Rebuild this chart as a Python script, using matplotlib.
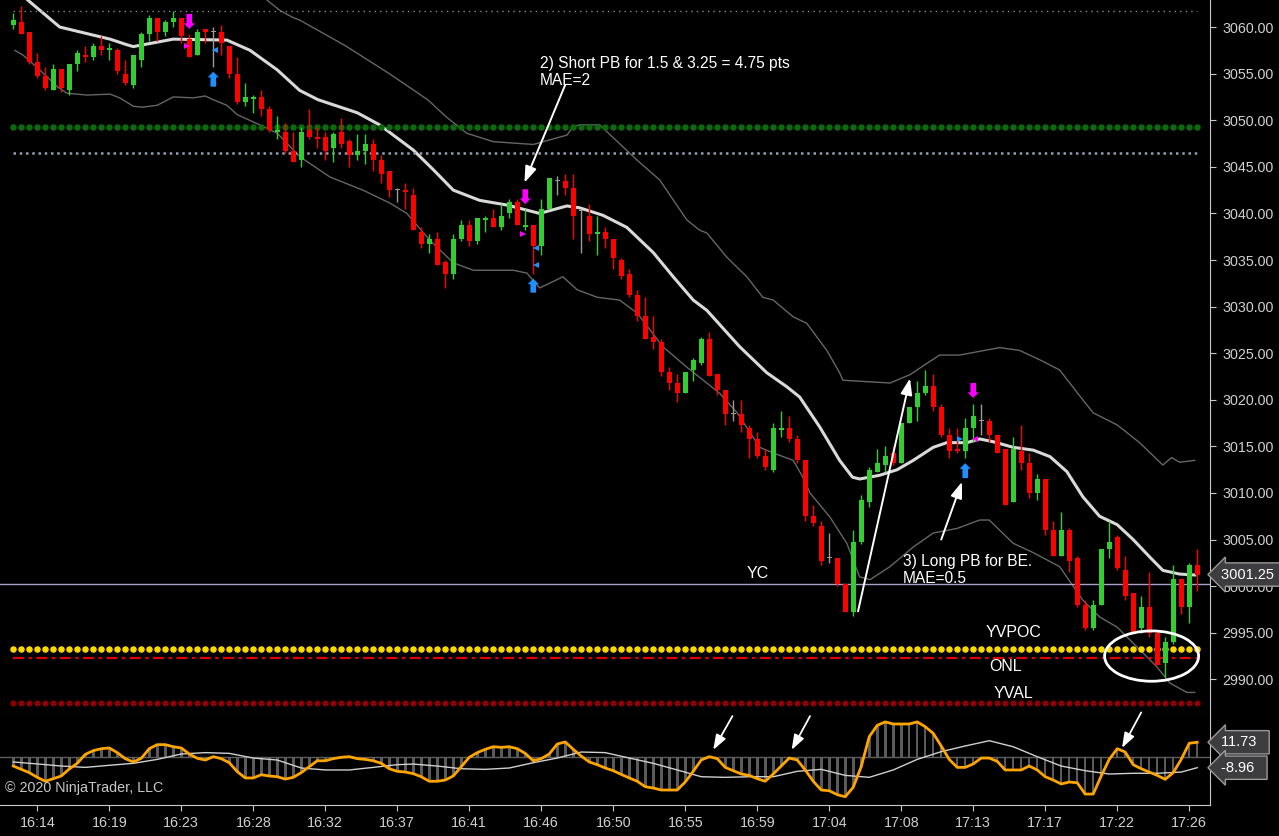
import matplotlib
matplotlib.use('Agg')
import matplotlib.pyplot as plt
import matplotlib.transforms as mtransforms
from matplotlib.patches import Ellipse
import numpy as np

plt.rcParams['font.family'] = ['Liberation Sans', 'DejaVu Sans']

# ---- price bars (one per bar, left to right) ----
opens = [3060.25, 3060.5, 3059.5, 3056.25, 3054.75, 3053.25, 3055.5, 3053.25, 3056.0, 3057.0,
         3056.75, 3058.0, 3057.5, 3057.5, 3055.0, 3053.75, 3056.5, 3059.25, 3061.0, 3059.5,
         3060.5, 3061.0, 3058.75, 3057.0, 3059.75, 3059.5, 3059.5, 3058.0, 3055.0, 3052.0,
         3052.25, 3052.5, 3051.25, 3048.75, 3048.75, 3046.75, 3045.75, 3049.0, 3048.25, 3048.25,
         3047.0, 3048.75, 3047.75, 3046.25, 3046.75, 3047.5, 3045.75, 3044.5, 3042.5, 3042.5,
         3042.0, 3038.0, 3036.75, 3037.25, 3034.75, 3033.5, 3037.25, 3038.75, 3037.0, 3039.25,
         3039.5, 3038.5, 3040.0, 3041.25, 3038.5, 3038.75, 3036.5, 3040.5, 3043.5, 3043.5,
         3042.75, 3040.25, 3039.75, 3037.75, 3038.0, 3037.25, 3035.0, 3033.5, 3031.25, 3029.0,
         3026.75, 3026.25, 3023.0, 3021.75, 3020.75, 3023.25, 3024.0, 3026.5, 3022.75, 3021.0,
         3018.5, 3018.5, 3017.0, 3015.75, 3014.0, 3012.5, 3016.75, 3017.0, 3015.75, 3013.5,
         3007.5, 3006.5, 3003.0, 3003.0, 3000.25, 2997.25, 3004.75, 3009.0, 3012.25, 3013.0,
         3014.25, 3013.25, 3017.5, 3019.25, 3020.75, 3021.5, 3019.25, 3016.25, 3014.75, 3014.5,
         3017.0, 3017.75, 3017.75, 3016.25, 3014.75, 3009.0, 3014.5, 3013.25, 3010.0, 3011.5,
         3006.0, 3003.25, 3006.0, 3003.0, 2998.0, 2995.5, 2998.0, 3004.0, 3005.25, 3001.75,
         2999.25, 2995.5, 2997.75, 2995.0, 2991.75, 2994.0, 3000.75, 2997.75, 3002.25]
highs = [3061.5, 3062.25, 3059.5, 3057.25, 3055.75, 3056.0, 3055.5, 3056.0, 3057.5, 3058.0,
         3058.25, 3059.0, 3058.25, 3057.75, 3056.5, 3057.0, 3059.5, 3061.25, 3061.0, 3060.75,
         3061.75, 3061.0, 3059.25, 3059.75, 3059.75, 3060.0, 3060.25, 3058.0, 3056.75, 3054.0,
         3052.75, 3053.25, 3051.5, 3050.5, 3049.75, 3048.75, 3049.25, 3051.25, 3049.25, 3048.75,
         3048.75, 3050.25, 3048.0, 3048.5, 3048.5, 3048.0, 3046.25, 3044.5, 3042.75, 3043.25,
         3042.75, 3038.5, 3037.75, 3038.0, 3035.0, 3037.75, 3039.25, 3039.25, 3039.5, 3039.75,
         3040.5, 3041.0, 3041.5, 3041.5, 3040.5, 3038.75, 3041.5, 3043.75, 3044.0, 3044.25,
         3044.25, 3040.5, 3041.0, 3039.75, 3038.5, 3037.25, 3035.25, 3034.0, 3031.75, 3031.0,
         3029.0, 3026.5, 3023.5, 3022.75, 3023.0, 3024.5, 3026.75, 3027.25, 3022.75, 3021.0,
         3020.0, 3020.0, 3017.25, 3016.5, 3014.75, 3017.5, 3018.75, 3018.25, 3016.25, 3013.5,
         3008.75, 3007.0, 3005.75, 3003.0, 3000.25, 3006.0, 3009.75, 3012.75, 3014.75, 3015.0,
         3015.0, 3017.5, 3019.25, 3022.0, 3023.25, 3022.75, 3019.5, 3017.0, 3017.0, 3018.0,
         3019.5, 3019.5, 3018.0, 3016.25, 3014.75, 3016.0, 3017.25, 3014.25, 3012.0, 3011.5,
         3007.0, 3008.0, 3006.25, 3003.25, 2998.5, 2998.5, 3004.0, 3007.0, 3005.5, 3003.25,
         2999.25, 2999.0, 3001.5, 2995.25, 2994.5, 3002.25, 3000.75, 3002.5, 3004.0]
lows = [3059.75, 3059.25, 3056.0, 3054.5, 3053.25, 3053.25, 3053.0, 3052.75, 3055.25, 3056.25,
        3056.5, 3057.0, 3056.5, 3055.0, 3053.75, 3053.5, 3055.75, 3058.5, 3058.5, 3059.0,
        3060.0, 3058.25, 3056.75, 3057.0, 3058.25, 3055.75, 3057.0, 3054.5, 3051.75, 3051.5,
        3050.75, 3050.5, 3048.75, 3048.0, 3046.5, 3045.5, 3045.0, 3048.0, 3047.0, 3045.75,
        3045.5, 3047.0, 3045.0, 3045.75, 3045.25, 3044.5, 3043.25, 3041.75, 3041.25, 3040.5,
        3038.25, 3036.25, 3035.75, 3034.5, 3032.0, 3033.0, 3037.0, 3036.5, 3036.75, 3038.0,
        3038.5, 3038.25, 3039.5, 3038.75, 3038.25, 3033.5, 3035.5, 3040.5, 3042.0, 3042.0,
        3037.25, 3035.75, 3037.0, 3035.5, 3036.25, 3034.0, 3033.0, 3031.0, 3028.5, 3026.5,
        3025.5, 3022.5, 3021.0, 3019.75, 3020.75, 3022.0, 3023.75, 3022.5, 3020.5, 3017.25,
        3017.75, 3016.5, 3013.75, 3013.75, 3012.5, 3012.25, 3016.0, 3015.5, 3013.25, 3007.0,
        3006.5, 3002.25, 3002.5, 3000.0, 2997.25, 2996.75, 3004.5, 3008.5, 3012.25, 3012.25,
        3013.0, 3013.25, 3017.5, 3017.75, 3020.5, 3018.75, 3016.0, 3013.75, 3014.25, 3013.75,
        3015.5, 3016.25, 3015.5, 3014.25, 3008.75, 3009.0, 3012.5, 3009.5, 3009.25, 3005.5,
        3003.25, 3003.25, 3001.5, 2997.75, 2995.25, 2995.25, 2998.0, 3003.0, 3001.75, 2998.5,
        2995.0, 2995.0, 2994.5, 2991.5, 2990.25, 2993.75, 2997.0, 2996.0, 2999.5]
closes = [3060.75, 3059.25, 3056.25, 3054.75, 3053.5, 3055.5, 3053.5, 3056.0, 3057.25, 3056.75,
          3058.0, 3057.5, 3057.75, 3055.25, 3054.0, 3057.0, 3059.25, 3061.0, 3059.5, 3060.5,
          3061.0, 3059.0, 3056.75, 3059.5, 3059.5, 3059.5, 3058.25, 3055.0, 3052.0, 3052.5,
          3052.5, 3051.25, 3049.0, 3049.0, 3046.75, 3045.5, 3048.75, 3048.25, 3048.0, 3046.75,
          3048.5, 3047.5, 3046.25, 3046.75, 3047.5, 3045.75, 3044.25, 3042.5, 3042.5, 3042.25,
          3038.25, 3036.75, 3037.25, 3034.5, 3033.5, 3037.25, 3038.75, 3037.0, 3039.5, 3039.5,
          3038.5, 3039.75, 3041.25, 3038.75, 3038.75, 3036.5, 3040.5, 3043.75, 3043.5, 3042.75,
          3039.75, 3040.25, 3037.75, 3038.0, 3037.25, 3035.25, 3033.25, 3031.25, 3029.0, 3026.5,
          3026.25, 3023.0, 3021.75, 3020.75, 3023.0, 3024.25, 3026.5, 3022.5, 3021.0, 3018.5,
          3018.5, 3017.25, 3015.75, 3014.0, 3012.75, 3017.0, 3017.0, 3015.75, 3013.5, 3007.5,
          3006.75, 3002.75, 3003.0, 3000.25, 2997.25, 3004.75, 3009.25, 3012.5, 3013.25, 3014.0,
          3013.25, 3017.5, 3019.25, 3020.75, 3021.5, 3019.25, 3016.25, 3014.5, 3014.5, 3017.0,
          3018.25, 3017.75, 3016.25, 3014.25, 3008.75, 3014.75, 3013.25, 3010.0, 3011.5, 3006.0,
          3003.25, 3006.0, 3002.75, 2998.0, 2995.5, 2998.0, 3004.0, 3004.75, 3002.0, 2999.0,
          2995.0, 2997.75, 2995.0, 2991.5, 2994.0, 3000.75, 2997.75, 3002.25, 3001.25]

time_labels = ['16:14', '16:19', '16:23', '16:28', '16:32', '16:37', '16:41', '16:46', '16:50',
               '16:55', '16:59', '17:04', '17:08', '17:13', '17:17', '17:22', '17:26']
time_bars = [3, 12, 21, 30, 39, 48, 57, 66, 75, 84, 93, 102, 111, 120, 129, 138, 147]

# ---- envelope lines (bar position, price) ----
mid_bar = [0, 1.8, 5.8, 8.7, 12.1, 14.2, 15, 17.5, 20, 26.7, 29.6, 33, 35.8, 38.1, 43, 45.8, 50,
           52.5, 55, 58.3, 61.7, 65.8, 69.2, 70.8, 73.7, 76.7, 80, 82.5, 85, 86.7, 90.8, 94.2,
           96.7, 98.3, 100.8, 103.3, 104.9, 105.8, 108.3, 110.5, 112.5, 115, 116.7, 119.2, 120.8,
           122.5, 125, 127.5, 129.6, 131.7, 133.7, 135.8, 138, 140, 142.1, 143.7, 145.8, 147.7]
mid_price = [3064.5, 3062.9, 3060.0, 3059.4, 3058.7, 3058.1, 3057.9, 3058.3, 3058.7, 3058.6,
             3057.5, 3055.4, 3053.2, 3052.2, 3050.8, 3049.5, 3046.8, 3044.7, 3042.5, 3041.4,
             3040.9, 3040.0, 3040.8, 3040.6, 3039.8, 3038.5, 3035.8, 3033.2, 3030.7, 3029.6,
             3025.7, 3022.9, 3021.4, 3020.3, 3017.1, 3013.5, 3011.7, 3011.5, 3011.9, 3012.5,
             3013.5, 3014.9, 3015.4, 3015.4, 3015.8, 3015.5, 3014.9, 3014.6, 3013.9, 3012.3,
             3009.6, 3007.5, 3006.6, 3005.0, 3003.1, 3001.7, 3001.3, 3001.2]

upper_bar = [29.5, 31.7, 33.3, 35, 35.8, 41.5, 47, 51.8, 54.2, 56.7, 60, 65, 69.2, 70, 70.8, 73.3,
             78, 80.8, 84.2, 85.8, 86.7, 89.2, 91.7, 93.7, 95, 97.5, 99.2, 101.7, 103.3, 103.7,
             109.6, 112.1, 114.2, 115.8, 118.3, 123.3, 125.8, 128.3, 130.8, 133.7, 135, 138,
             140.8, 143.7, 144.8, 145.8, 147.7]
upper_price = [3064.5, 3062.9, 3061.8, 3061.0, 3060.75, 3058.0, 3055.0, 3052.2, 3050.3, 3048.6,
               3047.7, 3047.4, 3048.4, 3049.3, 3049.5, 3049.5, 3045.7, 3043.6, 3039.3, 3038.2,
               3037.9, 3035.3, 3033.2, 3031.0, 3030.7, 3028.9, 3028.2, 3025.3, 3022.9, 3022.1,
               3021.8, 3022.7, 3023.9, 3024.8, 3024.8, 3025.6, 3025.3, 3024.3, 3023.2, 3020.0,
               3018.6, 3017.3, 3015.4, 3013.0, 3013.8, 3013.3, 3013.5]

lower_bar = [0.2, 1.2, 3.3, 5.5, 6.7, 9.2, 12.1, 13.3, 15, 16.1, 18, 20, 22.5, 24, 25, 26.7, 28,
             30.8, 33, 35.8, 39.6, 43.7, 47.1, 49.2, 52.1, 55, 57.5, 62.5, 64.2, 65.8, 68.7, 70.5,
             73, 75.8, 78, 81.2, 84.2, 86.7, 88.3, 90.5, 93.3, 95, 97.5, 98.7, 99.6, 102.1, 104.2,
             105.8, 107.1, 109.6, 112.5, 115, 118, 120.8, 122, 125, 127.5, 130.8, 133.7, 135.8,
             138, 140.8, 142.9, 144.6, 146.7, 147.7]
lower_price = [3057.5, 3057.0, 3055.4, 3053.6, 3052.9, 3052.7, 3052.8, 3052.4, 3051.5, 3051.4,
               3051.6, 3052.5, 3052.4, 3052.6, 3052.2, 3051.6, 3050.6, 3049.5, 3048.6, 3046.1,
               3043.9, 3042.5, 3041.1, 3040.0, 3037.1, 3034.7, 3033.9, 3033.9, 3033.6, 3032.0,
               3033.2, 3031.8, 3031.0, 3030.7, 3029.3, 3025.7, 3023.5, 3021.8, 3020.7, 3018.6,
               3014.9, 3014.3, 3013.5, 3011.7, 3010.0, 3007.4, 3004.6, 3001.0, 3000.7, 3002.1,
               3004.2, 3005.7, 3006.2, 3007.1, 3007.1, 3004.6, 3003.6, 3002.1, 2998.5, 2996.7,
               2995.6, 2993.2, 2991.4, 2989.6, 2988.6, 2988.6]

# ---- horizontal levels ----
level_top = 3061.75
level_green = 3049.25
level_grey = 3046.5
level_yc = 3000.25
level_yvpoc = 2993.25
level_onl = 2992.25
level_yval = 2987.5
last_price = 3001.25

# ---- trade signals ----
sell_bars = [22, 64, 120]
sell_from = [3061.4, 3042.6, 3021.8]
sell_to = [3059.8, 3041.0, 3020.2]
buy_bars = [25, 65, 119]
buy_from = [3053.6, 3031.5, 3011.6]
buy_to = [3055.2, 3033.0, 3013.2]
mag_right_x, mag_right_y = [21.7, 63.7], [3058.0, 3037.8]
mag_left_x, mag_left_y = [120.2], [3015.8]
blue_left_x, blue_left_y = [25.2, 65.3, 65.3], [3057.5, 3036.3, 3034.5]
blue_right_x, blue_right_y = [118.4], [3015.8]

# ---- lower oscillator ----
osc = [-7.6, -10.3, -13.0, -16.8, -20.0, -17.9, -15.7, -10.0, -5.4, 1.9,
       4.9, 6.5, 7.1, 3.3, -1.6, -4.3, -1.3, 6.5, 9.8, 9.8,
       8.1, 7.1, 2.2, -1.3, -2.7, 0.0, -1.6, -4.9, -12.2, -17.3,
       -17.3, -14.7, -15.7, -16.3, -18.2, -16.8, -13.0, -8.1, -3.3, -3.3,
       -1.6, -0.5, 0.0, -1.6, -2.2, -3.3, -5.4, -9.8, -11.9, -12.5,
       -13.8, -16.3, -20.0, -20.0, -19.0, -15.7, -8.1, -0.5, 3.3, 6.0,
       8.1, 7.6, 8.1, 6.5, 2.7, -3.3, -1.6, 2.2, 10.3, 12.0,
       6.0, 0.5, -4.3, -6.5, -9.2, -11.4, -14.4, -17.3, -20.0, -24.4,
       -25.5, -27.1, -27.1, -27.1, -20.6, -11.9, -2.7, 0.0, -1.6, -8.7,
       -11.4, -14.1, -15.2, -17.9, -20.0, -14.1, -7.6, -1.1, -2.7, -10.8,
       -20.0, -27.1, -27.7, -30.9, -32.6, -24.9, -8.1, 16.3, 25.5, 28.3,
       26.6, 26.6, 26.6, 28.3, 24.4, 19.0, 8.7, -2.2, -8.7, -8.7,
       -5.9, -1.1, -1.1, -3.8, -10.8, -10.8, -10.8, -7.6, -10.8, -16.3,
       -19.0, -22.2, -20.6, -21.2, -30.4, -30.4, -15.7, -2.2, 6.5, 3.8,
       -6.5, -9.8, -12.5, -15.2, -18.4, -13.0, -2.2, 10.9, 11.73]
sig_bar = [0, 3, 6, 9, 12, 15, 18, 21, 24, 27, 30, 33, 36, 39, 42, 45, 48, 50, 53, 56, 59, 62,
           65, 68, 71, 74, 77, 80, 83, 86, 89, 92, 95, 98, 101, 104, 107, 110, 113, 116, 119,
           122, 125, 128, 131, 134, 137, 140, 143, 146, 148]
sig_val = [-4.3, -5.9, -7.6, -8.7, -7.0, -5.4, -2.2, 2.2, 3.3, 2.7, -1.1, -2.7, -9.2, -10.8,
           -10.8, -8.7, -6.5, -6.0, -7.6, -9.8, -10.3, -9.2, -4.9, -1.1, 3.8, 3.3, -1.1, -5.4,
           -10.8, -16.3, -16.8, -16.3, -16.3, -11.9, -10.3, -15.2, -16.8, -10.8, -2.2, 4.1, 8.7,
           13.0, 8.1, 0.0, -7.6, -11.4, -14.1, -13.5, -13.5, -12.5, -8.96]

W, H = 1279, 836
fig = plt.figure(figsize=(W / 100, H / 100), dpi=100, facecolor='black')
ax = fig.add_axes([0, 120 / H, 1210 / W, 716 / H], facecolor='black')
ax2 = fig.add_axes([0, 31 / H, 1210 / W, 89 / H], facecolor='black')

n = len(closes)
x = np.arange(n)
xlim = (-1.66, 149.6)

# candles
cols = []
for o, c in zip(opens, closes):
    if c > o:
        cols.append('#32cd32')
    elif c < o:
        cols.append('#ff0000')
    else:
        cols.append('#9a9a9a')
ax.vlines(x, lows, highs, colors=cols, lw=1, zorder=3)
body_lo = np.minimum(opens, closes)
body_h = np.maximum(np.abs(np.array(closes) - np.array(opens)), 0.12)
ax.bar(x, body_h, bottom=body_lo, width=0.66, color=cols, lw=0, zorder=4)

# envelope
ax.plot(upper_bar, upper_price, color='#666666', lw=1, zorder=2)
ax.plot(lower_bar, lower_price, color='#666666', lw=1, zorder=2)
ax.plot(mid_bar, mid_price, color='#d9d9d9', lw=2.2, zorder=2)

# levels
ax.hlines(level_top, 0, n - 1, colors='#8a8a8a', lw=1, linestyles=(0, (1, 3)))
ax.scatter(x, [level_green] * n, s=22, color='#0b6b0b', lw=0, zorder=2)
ax.hlines(level_grey, 0, n - 1, colors='#8fa0b4', lw=1.8, linestyles=(0, (1, 1.5)))
ax.axhline(level_yc, color='#a99fcc', lw=1, zorder=2)
ax.scatter(x, [level_yvpoc] * n, s=22, color='#ffd700', lw=0, zorder=2)
ax.hlines(level_onl, 0, n - 1, colors='#e00000', lw=1.6, linestyles=(0, (5, 2, 1.5, 2)))
ax.scatter(x, [level_yval] * n, s=20, color='#8b0000', lw=0, zorder=2)

lab = dict(color='white', fontsize=11.5, ha='center', va='center')
ax.text(93.1, 3001.4, 'YC', **lab)
ax.text(125.0, 2995.0, 'YVPOC', **lab)
ax.text(124.1, 2991.4, 'ONL', **lab)
ax.text(125.0, 2988.5, 'YVAL', **lab)

# signals
sig_style = 'simple,head_length=0.45,head_width=0.9,tail_width=0.45'
for b, y0, y1 in zip(sell_bars, sell_from, sell_to):
    ax.annotate('', xy=(b, y1), xytext=(b, y0),
                arrowprops=dict(arrowstyle=sig_style, color='#ff00ff', lw=0,
                                mutation_scale=9, shrinkA=0, shrinkB=0), zorder=6)
for b, y0, y1 in zip(buy_bars, buy_from, buy_to):
    ax.annotate('', xy=(b, y1), xytext=(b, y0),
                arrowprops=dict(arrowstyle=sig_style, color='#1e90ff', lw=0,
                                mutation_scale=9, shrinkA=0, shrinkB=0), zorder=6)
ax.plot(mag_right_x, mag_right_y, '>', color='#ff00ff', ms=5, mew=0, zorder=6)
ax.plot(mag_left_x, mag_left_y, '<', color='#ff00ff', ms=5, mew=0, zorder=6)
ax.plot(blue_left_x, blue_left_y, '<', color='#1e90ff', ms=5, mew=0, zorder=6)
ax.plot(blue_right_x, blue_right_y, '>', color='#1e90ff', ms=5, mew=0, zorder=6)

# notes
note = dict(color='white', fontsize=11.2, ha='left', va='top', linespacing=1.2)
ax.text(65.8, 3056.9, '2) Short PB for 1.5 & 3.25 = 4.75 pts\nMAE=2', **note)
ax.text(111.2, 3003.5, '3) Long PB for BE.\nMAE=0.5', **note)
arr = dict(arrowstyle='-|>,head_length=0.7,head_width=0.25', color='white', lw=1.4,
           mutation_scale=14, shrinkA=0, shrinkB=0)
ax.annotate('', xy=(63.9, 3043.3), xytext=(69.0, 3053.8), arrowprops=arr, zorder=7)
ax.annotate('', xy=(112.1, 3022.3), xytext=(105.6, 2997.3), arrowprops=arr, zorder=7)
ax.annotate('', xy=(118.6, 3011.2), xytext=(116.0, 3005.0), arrowprops=arr, zorder=7)
ax.add_patch(Ellipse((142.3, 2992.5), 11.75, 5.4, fill=False, ec='white', lw=2, zorder=7))

# price axis
ax.set_xlim(*xlim)
ax.set_ylim(2986.07, 3062.9)
ax.yaxis.tick_right()
ax.set_yticks(np.arange(2990, 3061, 5))
ax.set_yticklabels(['%.2f' % v for v in np.arange(2990, 3061, 5)])
ax.tick_params(axis='y', colors='#c8c8c8', labelsize=10.3, length=4, pad=5, labelcolor='#d0d0d0')
ax.set_xticks([])
for s in ['top', 'left']:
    ax.spines[s].set_visible(False)
ax.spines['right'].set_color('#c8c8c8')
ax.spines['bottom'].set_color('#5c5c5c')

box = dict(boxstyle='larrow,pad=0.32', fc='#3d3d3f', ec='#9a9a9a', lw=1)
trans = mtransforms.blended_transform_factory(ax.transAxes, ax.transData)
ax.text(1.009, last_price, '%.2f ' % last_price, transform=trans, va='center', ha='left',
        color='white', fontsize=10.5, clip_on=False, zorder=10, bbox=box)

# oscillator panel
ax2.bar(x, osc, width=0.32, color='#5a5a5a', lw=0, zorder=1)
ax2.axhline(0, color='#5e5e5e', lw=1, zorder=1)
ax2.plot(sig_bar, sig_val, color='#d0d0d0', lw=1, zorder=2)
ax2.plot(x, osc, color='#ffa500', lw=2, zorder=3)
ax2.set_xlim(*xlim)
ax2.set_ylim(-39.3, 33.1)
ax2.set_yticks([])
ax2.set_xticks(time_bars)
ax2.set_xticklabels(time_labels)
ax2.tick_params(axis='x', colors='#c8c8c8', labelsize=10.3, length=4, pad=4, labelcolor='#d0d0d0')
for s in ['top', 'left']:
    ax2.spines[s].set_visible(False)
ax2.spines['right'].set_color('#c8c8c8')
ax2.spines['bottom'].set_color('#c8c8c8')

arr2 = dict(arrowstyle='-|>,head_length=0.7,head_width=0.25', color='white', lw=1.3,
            mutation_scale=13, shrinkA=0, shrinkB=0)
ax2.annotate('', xy=(87.5, 5.5), xytext=(89.9, 33.0), arrowprops=arr2, zorder=5)
ax2.annotate('', xy=(97.3, 5.5), xytext=(99.6, 33.0), arrowprops=arr2, zorder=5)
ax2.annotate('', xy=(138.6, 7.1), xytext=(141.0, 36.0), arrowprops=arr2, zorder=5,
             annotation_clip=False)

trans2 = mtransforms.blended_transform_factory(ax2.transAxes, ax2.transData)
for v in [osc[-1], sig_val[-1]]:
    ax2.text(1.009, v, ('%.2f' % v).ljust(7), transform=trans2, va='center', ha='left',
             color='white', fontsize=10.5, clip_on=False, zorder=10, bbox=box)

fig.text(5 / W, 1 - 788 / H, '\u00a9 2020 NinjaTrader, LLC', color='#c8c8c8', fontsize=10.3,
         ha='left', va='center')

fig.savefig('out.png', dpi=100, facecolor='black')
